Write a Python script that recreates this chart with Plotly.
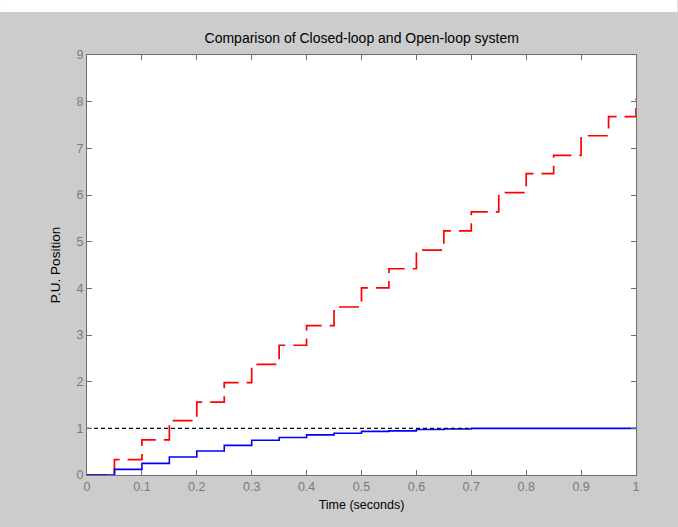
import plotly.graph_objects as go

time = [0.0, 0.05, 0.1, 0.15, 0.2, 0.25, 0.3, 0.35, 0.4, 0.45, 0.5,
        0.55, 0.6, 0.65, 0.7, 0.75, 0.8, 0.85, 0.9, 0.95, 1.0]
open_loop = [0.0, 0.33, 0.754, 1.167, 1.56, 1.98, 2.37, 2.78, 3.20, 3.60, 4.01,
             4.42, 4.82, 5.23, 5.64, 6.05, 6.46, 6.85, 7.27, 7.68, 8.06]
closed_loop = [0.0, 0.12, 0.25, 0.385, 0.515, 0.635, 0.745, 0.805, 0.86, 0.895, 0.935,
               0.945, 0.975, 0.985, 1.0, 1.0, 1.0, 1.0, 1.0, 1.0, 1.0]
ref_t = [0.0, 0.7]
ref_y = [1.0, 1.0]

x_ticks = [0, 0.1, 0.2, 0.3, 0.4, 0.5, 0.6, 0.7, 0.8, 0.9, 1]
x_tick_text = ["0", "0.1", "0.2", "0.3", "0.4", "0.5", "0.6", "0.7", "0.8", "0.9", "1"]
y_ticks = [0, 1, 2, 3, 4, 5, 6, 7, 8, 9]

FONT = "Liberation Sans, Arial, sans-serif"

fig = go.Figure()
fig.add_trace(go.Scatter(x=time, y=open_loop, mode="lines", line_shape="hv",
                         line=dict(color="#ff0000", width=1.7, dash="20px,8px"),
                         name="Open-loop", showlegend=False))
fig.add_trace(go.Scatter(x=time, y=closed_loop, mode="lines", line_shape="hv",
                         line=dict(color="#0000ff", width=1.6),
                         name="Closed-loop", showlegend=False))
fig.add_trace(go.Scatter(x=ref_t, y=ref_y, mode="lines",
                         line=dict(color="#000000", width=1.3, dash="4px,3px"),
                         name="Reference", showlegend=False))

axis_common = dict(showgrid=False, zeroline=False, showline=True, mirror="ticks",
                   linecolor="#6e6e6e", linewidth=1, ticks="inside", ticklen=5,
                   tickcolor="#6e6e6e", tickwidth=1,
                   tickfont=dict(family=FONT, size=12.5, color="#7a7a7a"))

fig.update_layout(
    width=678, height=527,
    margin=dict(l=87, r=41.5, t=55, b=51.7),
    paper_bgcolor="#cccccc", plot_bgcolor="#ffffff",
    title=dict(text="Comparison of Closed-loop and Open-loop system",
               x=(87 + 636.5) / 2 / 678, xanchor="center", y=1 - 38 / 527, yanchor="middle",
               font=dict(family=FONT, size=14, color="#000000")),
    xaxis=dict(range=[0, 1], tickvals=x_ticks, ticktext=x_tick_text,
               title=dict(text="Time (seconds)", standoff=7,
                          font=dict(family=FONT, size=12.5, color="#000000")),
               **axis_common),
    yaxis=dict(range=[0, 9], tickvals=y_ticks,
               title=dict(text="P.U. Position", standoff=12,
                          font=dict(family=FONT, size=13.5, color="#000000")),
               **axis_common),
    shapes=[dict(type="rect", xref="paper", yref="paper",
                 x0=-87 / 549.5, x1=1 + 41.5 / 549.5,
                 y0=1 + 43 / 420.3, y1=1 + 55 / 420.3,
                 fillcolor="#ffffff", line=dict(width=0), layer="below")],
)

fig.write_html("out.html")
